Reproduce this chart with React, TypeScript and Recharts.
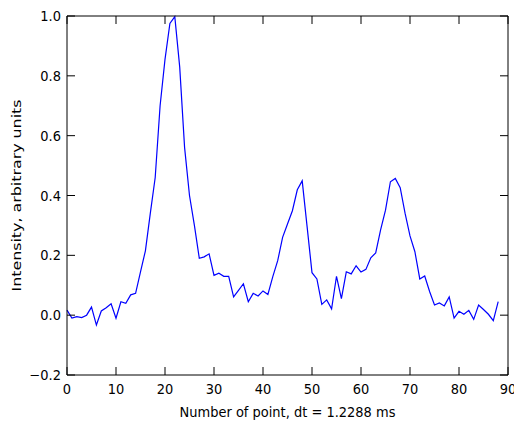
import React from "react"
import { LineChart, Line, XAxis, YAxis } from "recharts"

// Intensity per point
const intensity = [
  0.017, -0.01, -0.005, -0.008, 0.0, 0.027, -0.033, 0.014, 0.025, 0.038,
  -0.01, 0.045, 0.04, 0.068, 0.073, 0.145, 0.215, 0.34, 0.46, 0.7,
  0.855, 0.975, 0.998, 0.83, 0.56, 0.4, 0.3, 0.19, 0.195, 0.205,
  0.133, 0.14, 0.13, 0.13, 0.061, 0.083, 0.105, 0.045, 0.073, 0.064,
  0.081, 0.069, 0.129, 0.182, 0.26, 0.305, 0.349, 0.419, 0.449, 0.296,
  0.142, 0.121, 0.036, 0.051, 0.021, 0.13, 0.055, 0.145, 0.138, 0.165,
  0.144, 0.153, 0.192, 0.208, 0.285, 0.351, 0.446, 0.457, 0.426, 0.34,
  0.265, 0.212, 0.121, 0.131, 0.079, 0.034, 0.041, 0.031, 0.061, -0.01,
  0.013, 0.003, 0.016, -0.014, 0.034, 0.019, 0.003, -0.018, 0.045,
]

const xTicks = [0, 10, 20, 30, 40, 50, 60, 70, 80, 90]
const yTicks = [-0.2, 0, 0.2, 0.4, 0.6, 0.8, 1.0]

const points = intensity.map((v, i) => ({ n: i, value: v }))

const font = "'DejaVu Sans', sans-serif"
const fs = 13
const stretch = 1.1 // reference text is slightly taller than wide
const fmtY = (v: number) => v.toFixed(1).replace("-", "\u2212")

// tickSize=1 + tickMargin=1 => custom tick gets x/y 2px away from the axis line
const BottomTick = ({ x, y, payload }: any) => {
  const ay = y - 2
  return (
    <g>
      <line x1={x} y1={ay} x2={x} y2={ay - 8} stroke="#000" />
      <text
        transform={`translate(${x}, ${ay + 19}) scale(1, ${stretch})`}
        textAnchor="middle"
        fontSize={fs}
        fontFamily={font}
        fill="#000"
      >
        {payload.value}
      </text>
    </g>
  )
}

const TopTick = ({ x, y }: any) => <line x1={x} y1={y + 2} x2={x} y2={y + 10} stroke="#000" />

const LeftTick = ({ x, y, payload }: any) => {
  const ax = x + 2
  return (
    <g>
      <line x1={ax} y1={y} x2={ax + 8} y2={y} stroke="#000" />
      <text
        transform={`translate(${ax - 6}, ${y}) scale(1, ${stretch})`}
        dy="0.36em"
        textAnchor="end"
        fontSize={fs}
        fontFamily={font}
        fill="#000"
      >
        {fmtY(payload.value)}
      </text>
    </g>
  )
}

const RightTick = ({ x, y }: any) => <line x1={x - 2} y1={y} x2={x - 10} y2={y} stroke="#000" />

const XLabel = ({ viewBox }: any) => (
  <text
    transform={`translate(${viewBox.x + viewBox.width / 2}, 417) scale(1, ${stretch})`}
    textAnchor="middle"
    fontSize={fs}
    fontFamily={font}
    fill="#000"
  >
    Number of point, dt = 1.2288 ms
  </text>
)

const YLabel = ({ viewBox }: any) => {
  const cy = viewBox.y + viewBox.height / 2
  return (
    <text
      x={16}
      y={cy}
      transform={`rotate(-90, 16, ${cy})`}
      textAnchor="middle"
      dominantBaseline="central"
      fontSize={fs}
      fontFamily={font}
      fill="#000"
      textLength={192}
      lengthAdjust="spacingAndGlyphs"
    >
      Intensity, arbitrary units
    </text>
  )
}

export default function App() {
  return (
    <div style={{ position: "absolute", left: 0, top: 0, background: "#fff" }}>
      <LineChart width={514} height={423} data={points} margin={{ top: 15, right: 5, bottom: 0, left: 0 }}>
        <XAxis
          dataKey="n"
          type="number"
          domain={[0, 90]}
          ticks={xTicks}
          height={48}
          tickSize={1}
          tickMargin={1}
          tickLine={false}
          axisLine={{ stroke: "#000" }}
          tick={<BottomTick />}
          label={{ content: <XLabel /> }}
          interval={0}
        />
        <XAxis
          xAxisId="top"
          orientation="top"
          dataKey="n"
          type="number"
          domain={[0, 90]}
          ticks={xTicks}
          height={1}
          tickSize={1}
          tickMargin={1}
          tickLine={false}
          axisLine={{ stroke: "#000" }}
          tick={<TopTick />}
          interval={0}
        />
        <YAxis
          type="number"
          domain={[-0.2, 1.0]}
          ticks={yTicks}
          width={67}
          tickSize={1}
          tickMargin={1}
          tickLine={false}
          axisLine={{ stroke: "#000" }}
          tick={<LeftTick />}
          label={{ content: <YLabel /> }}
          interval={0}
        />
        <YAxis
          yAxisId="right"
          orientation="right"
          type="number"
          domain={[-0.2, 1.0]}
          ticks={yTicks}
          width={1}
          tickSize={1}
          tickMargin={1}
          tickLine={false}
          axisLine={{ stroke: "#000" }}
          tick={<RightTick />}
          interval={0}
        />
        <Line
          dataKey="value"
          type="linear"
          stroke="#0000ff"
          strokeWidth={1.2}
          dot={false}
          isAnimationActive={false}
        />
        <Line
          xAxisId="top"
          yAxisId="right"
          dataKey="value"
          stroke="none"
          dot={false}
          legendType="none"
          isAnimationActive={false}
        />
      </LineChart>
    </div>
  )
}
